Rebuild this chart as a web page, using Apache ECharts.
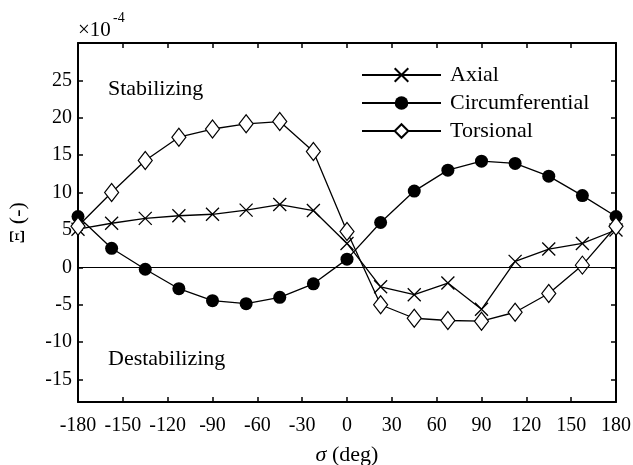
<!DOCTYPE html>
<html>
<head>
<meta charset="utf-8">
<script src="https://cdn.jsdelivr.net/npm/echarts@6/dist/echarts.min.js"></script>
<style>
html,body{margin:0;padding:0;background:#fff;}
#chart{width:633px;height:465px;}
</style>
</head>
<body>
<div id="chart"></div>
<script>
// Data (values in units of 1e-4)
var angles = [-180, -157.5, -135, -112.5, -90, -67.5, -45, -22.5, 0, 22.5, 45, 67.5, 90, 112.5, 135, 157.5, 180];
var axial = [5.1, 5.9, 6.55, 6.9, 7.1, 7.65, 8.4, 7.6, 3.2, -2.6, -3.65, -2.1, -5.6, 0.8, 2.45, 3.2, 5.0];
var circumferential = [6.8, 2.55, -0.25, -2.85, -4.45, -4.85, -4.0, -2.2, 1.1, 6.0, 10.2, 13.0, 14.2, 13.9, 12.2, 9.6, 6.8];
var torsional = [5.5, 10.0, 14.3, 17.4, 18.5, 19.2, 19.5, 15.5, 4.8, -5.0, -6.8, -7.1, -7.2, -6.0, -3.5, 0.3, 5.5];
var xTicks = [-180, -150, -120, -90, -60, -30, 0, 30, 60, 90, 120, 150, 180];
var yTicks = [-15, -10, -5, 0, 5, 10, 15, 20, 25];
var seriesNames = ['Axial', 'Circumferential', 'Torsional'];

function pairs(ys) {
  return angles.map(function (a, i) { return [a, ys[i]]; });
}

var FONT = '"Liberation Serif", "Times New Roman", serif';
var chart = echarts.init(document.getElementById('chart'), null, {renderer: 'canvas'});

var axisLineStyle = {color: '#000', width: 2};
var lineStyle = {color: '#000', width: 1.3};

var option = {
  animation: false,
  backgroundColor: '#fff',
  textStyle: {fontFamily: FONT, color: '#000'},
  grid: {left: 78, right: 17, top: 43, bottom: 63, containLabel: false, outerBoundsMode: 'none'},
  legend: {
    data: seriesNames,
    orient: 'vertical',
    left: 361,
    top: 64,
    padding: 0,
    itemWidth: 79,
    itemHeight: 17,
    itemGap: 6,
    textStyle: {fontFamily: FONT, fontSize: 22, color: '#000', padding: [0, 0, 0, 4]}
  },
  xAxis: [{
    type: 'value',
    min: -180, max: 180, interval: 30,
    position: 'bottom',
    axisLine: {show: true, onZero: false, lineStyle: axisLineStyle},
    axisTick: {show: true, inside: true, length: 5, lineStyle: {color: '#000', width: 1.5}},
    axisLabel: {fontFamily: FONT, fontSize: 20, color: '#000', margin: 14,
      formatter: function (v) { return xTicks.indexOf(v) >= 0 ? String(v) : ''; }},
    splitLine: {show: false},
    name: '{i|σ} (deg)',
    nameLocation: 'middle',
    nameGap: 42,
    nameTextStyle: {fontFamily: FONT, fontSize: 22, color: '#000',
      rich: {i: {fontFamily: FONT, fontSize: 22, fontStyle: 'italic', color: '#000'}}}
  }, {
    type: 'value',
    min: -180, max: 180, interval: 30,
    position: 'top',
    axisLine: {show: true, onZero: false, lineStyle: axisLineStyle},
    axisTick: {show: true, inside: true, length: 5, lineStyle: {color: '#000', width: 1.5}},
    axisLabel: {show: false},
    splitLine: {show: false}
  }],
  yAxis: [{
    type: 'value',
    min: -18, max: 30,
    position: 'left',
    axisLine: {show: true, onZero: false, lineStyle: axisLineStyle},
    axisTick: {show: true, inside: true, length: 5, customValues: yTicks, lineStyle: {color: '#000', width: 1.5}},
    axisLabel: {fontFamily: FONT, fontSize: 20, color: '#000', margin: 6, customValues: yTicks},
    splitLine: {show: false}
  }, {
    type: 'value',
    min: -18, max: 30,
    position: 'right',
    axisLine: {show: true, onZero: false, lineStyle: axisLineStyle},
    axisTick: {show: true, inside: true, length: 5, customValues: yTicks, lineStyle: {color: '#000', width: 1.5}},
    axisLabel: {show: false},
    splitLine: {show: false}
  }],
  graphic: [
    {type: 'text', x: 18, y: 223, rotation: Math.PI / 2,
      style: {text: 'Ξ (-)', fontFamily: FONT, fontSize: 22, fill: '#000', align: 'center', verticalAlign: 'middle'}},
    {type: 'text', left: 78, top: 20, style: {text: '×10', fontFamily: FONT, fontSize: 21, fill: '#000'}},
    {type: 'text', left: 113, top: 11, style: {text: '-4', fontFamily: FONT, fontSize: 14, fill: '#000'}},
    {type: 'text', left: 108, top: 78, style: {text: 'Stabilizing', fontFamily: FONT, fontSize: 22, fill: '#000'}},
    {type: 'text', left: 108, top: 348, style: {text: 'Destabilizing', fontFamily: FONT, fontSize: 22, fill: '#000'}}
  ],
  series: [{
    name: seriesNames[0],
    type: 'line',
    data: pairs(axial),
    symbol: 'path://M0,0L10,10M10,0L0,10',
    symbolSize: 13,
    showAllSymbol: true,
    lineStyle: lineStyle,
    itemStyle: {color: '#000', borderColor: '#000', borderWidth: 1.3},
    markLine: {
      silent: true,
      symbol: 'none',
      label: {show: false},
      lineStyle: {color: '#000', width: 1, type: 'solid'},
      data: [{yAxis: 0}]
    }
  }, {
    name: seriesNames[1],
    type: 'line',
    data: pairs(circumferential),
    symbol: 'circle',
    symbolSize: 13,
    showAllSymbol: true,
    lineStyle: lineStyle,
    itemStyle: {color: '#000', borderColor: '#000', borderWidth: 0}
  }, {
    name: seriesNames[2],
    type: 'line',
    data: pairs(torsional),
    symbol: 'diamond',
    symbolSize: [14, 18],
    showAllSymbol: true,
    lineStyle: lineStyle,
    itemStyle: {color: '#fff', borderColor: '#000', borderWidth: 1.2}
  }]
};
chart.setOption(option);
</script>
</body>
</html>
